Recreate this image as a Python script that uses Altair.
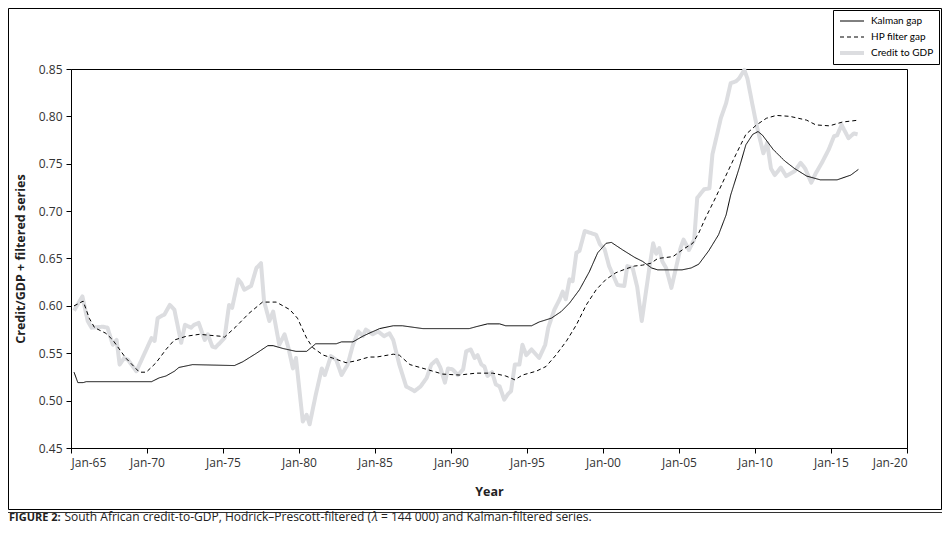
import altair as alt
import pandas as pd

# ---- data (decimal years) ----
credit_years = [1965.2, 1965.75, 1966.1, 1966.35, 1967.1, 1967.4, 1967.75, 1968.0, 1968.2, 1968.5,
                1968.75, 1969.3, 1970.3, 1970.5, 1970.7, 1971.15, 1971.5, 1971.8, 1972.25, 1972.5,
                1972.9, 1973.1, 1973.4, 1973.8, 1974.0, 1974.3, 1974.5, 1975.1, 1975.4, 1975.6,
                1976.0, 1976.2, 1976.4, 1976.85, 1977.2, 1977.5, 1977.7, 1978.05, 1978.3, 1978.7,
                1979.05, 1979.3, 1979.6, 1979.8, 1980.25, 1980.5, 1980.7, 1981.1, 1981.5, 1981.7,
                1982.1, 1982.45, 1982.8, 1983.2, 1983.55, 1983.9, 1984.2, 1984.4, 1984.85, 1985.2,
                1985.6, 1985.95, 1986.2, 1986.6, 1987.05, 1987.6, 1988.0, 1988.4, 1988.7, 1989.05,
                1989.3, 1989.6, 1989.8, 1990.1, 1990.45, 1990.8, 1991.0, 1991.3, 1991.55, 1991.75,
                1992.0, 1992.2, 1992.4, 1992.7, 1992.95, 1993.2, 1993.5, 1993.75, 1993.95, 1994.2,
                1994.5, 1994.7, 1994.95, 1995.3, 1995.8, 1996.2, 1996.4, 1996.8, 1997.15, 1997.35,
                1997.55, 1997.8, 1998.0, 1998.25, 1998.45, 1998.8, 1999.55, 1999.8, 2000.1, 2000.4,
                2000.95, 2001.4, 2001.6, 2001.95, 2002.25, 2002.55, 2002.8, 2003.05, 2003.3, 2003.5,
                2003.7, 2003.9, 2004.15, 2004.5, 2004.8, 2005.1, 2005.3, 2005.65, 2006.0, 2006.2,
                2006.65, 2007.0, 2007.2, 2007.55, 2007.75, 2008.1, 2008.4, 2008.75, 2008.95, 2009.3,
                2009.5, 2009.8, 2010.1, 2010.55, 2010.8, 2011.05, 2011.3, 2011.7, 2012.05, 2012.6,
                2013.0, 2013.3, 2013.7, 2014.0, 2014.4, 2014.85, 2015.2, 2015.4, 2015.7, 2016.15,
                2016.5, 2016.75]
credit_values = [0.595, 0.610, 0.584, 0.577, 0.578, 0.577, 0.559, 0.564, 0.538, 0.545,
                 0.543, 0.531, 0.566, 0.563, 0.587, 0.591, 0.601, 0.596, 0.561, 0.580,
                 0.577, 0.580, 0.582, 0.564, 0.570, 0.557, 0.556, 0.566, 0.601, 0.598,
                 0.628, 0.624, 0.617, 0.621, 0.640, 0.645, 0.605, 0.584, 0.594, 0.559,
                 0.570, 0.556, 0.534, 0.545, 0.478, 0.485, 0.475, 0.506, 0.534, 0.527,
                 0.547, 0.543, 0.527, 0.538, 0.559, 0.573, 0.568, 0.575, 0.570, 0.573,
                 0.568, 0.571, 0.564, 0.538, 0.515, 0.510, 0.515, 0.524, 0.538, 0.543,
                 0.535, 0.519, 0.534, 0.533, 0.527, 0.533, 0.552, 0.554, 0.545, 0.548,
                 0.538, 0.536, 0.526, 0.530, 0.517, 0.515, 0.501, 0.507, 0.510, 0.538,
                 0.538, 0.559, 0.548, 0.554, 0.545, 0.559, 0.577, 0.596, 0.607, 0.615,
                 0.607, 0.628, 0.626, 0.656, 0.658, 0.679, 0.675, 0.665, 0.660, 0.642,
                 0.622, 0.621, 0.642, 0.640, 0.620, 0.584, 0.612, 0.640, 0.666, 0.655,
                 0.661, 0.647, 0.640, 0.619, 0.640, 0.661, 0.670, 0.659, 0.670, 0.714,
                 0.723, 0.724, 0.760, 0.784, 0.798, 0.814, 0.835, 0.837, 0.840, 0.849,
                 0.840, 0.815, 0.791, 0.761, 0.772, 0.745, 0.738, 0.746, 0.737, 0.742,
                 0.751, 0.745, 0.730, 0.740, 0.751, 0.765, 0.779, 0.780, 0.791, 0.777,
                 0.782, 0.781]

kalman_years = [1965.2, 1965.45, 1965.8, 1966.0, 1970.3, 1970.8, 1971.25, 1971.8, 1972.1, 1973.0,
                1975.75, 1976.3, 1977.2, 1977.95, 1978.3, 1978.95, 1979.8, 1980.5, 1981.1, 1982.45,
                1982.8, 1983.55, 1984.2, 1984.6, 1985.3, 1986.2, 1986.8, 1988.15, 1991.2, 1991.65,
                1992.4, 1993.2, 1993.6, 1995.3, 1995.8, 1996.6, 1997.25, 1997.8, 1998.45, 1999.1,
                1999.65, 2000.2, 2000.55, 2001.3, 2002.1, 2002.6, 2003.2, 2003.6, 2005.2, 2005.8,
                2006.3, 2006.95, 2007.6, 2008.1, 2008.4, 2008.95, 2009.4, 2009.85, 2010.2, 2010.5,
                2011.2, 2011.95, 2012.6, 2013.4, 2014.3, 2015.4, 2016.3, 2016.8]
kalman_values = [0.530, 0.519, 0.519, 0.520, 0.520, 0.524, 0.526, 0.531, 0.535, 0.538,
                 0.537, 0.541, 0.550, 0.558, 0.558, 0.555, 0.552, 0.552, 0.560, 0.560,
                 0.562, 0.562, 0.568, 0.571, 0.576, 0.579, 0.579, 0.576, 0.576, 0.578,
                 0.581, 0.581, 0.579, 0.579, 0.583, 0.587, 0.594, 0.603, 0.617, 0.636,
                 0.656, 0.666, 0.667, 0.659, 0.651, 0.647, 0.640, 0.638, 0.638, 0.640,
                 0.644, 0.658, 0.675, 0.696, 0.717, 0.745, 0.770, 0.781, 0.784, 0.780,
                 0.765, 0.753, 0.745, 0.737, 0.733, 0.733, 0.738, 0.744]

hp_years = [1965.2, 1965.8, 1966.2, 1966.55, 1967.3, 1967.75, 1968.6, 1969.5, 1969.95, 1970.6,
            1971.25, 1971.8, 1972.6, 1973.45, 1974.1, 1974.8, 1975.1, 1975.85, 1976.7, 1977.6,
            1978.5, 1979.4, 1979.9, 1980.5, 1980.9, 1981.6, 1982.2, 1983.1, 1983.75, 1984.6,
            1985.1, 1986.2, 1986.6, 1987.3, 1988.4, 1989.45, 1990.55, 1991.65, 1992.75, 1993.6,
            1994.2, 1994.7, 1995.6, 1996.25, 1996.9, 1997.6, 1998.25, 1998.9, 1999.55, 2000.2,
            2000.85, 2001.5, 2002.05, 2002.6, 2003.15, 2003.6, 2004.6, 2005.3, 2005.9, 2006.3,
            2006.75, 2007.4, 2008.1, 2008.75, 2009.4, 2010.1, 2010.75, 2011.4, 2012.3, 2012.85,
            2013.4, 2014.0, 2014.9, 2015.75, 2016.8]
hp_values = [0.600, 0.605, 0.587, 0.577, 0.571, 0.564, 0.545, 0.530, 0.530, 0.540,
             0.554, 0.564, 0.568, 0.570, 0.569, 0.568, 0.567, 0.578, 0.592, 0.604,
             0.604, 0.596, 0.587, 0.566, 0.556, 0.548, 0.545, 0.540, 0.542, 0.546,
             0.546, 0.549, 0.548, 0.538, 0.533, 0.528, 0.527, 0.529, 0.529, 0.526,
             0.522, 0.527, 0.531, 0.536, 0.548, 0.563, 0.580, 0.601, 0.617, 0.628,
             0.635, 0.639, 0.642, 0.643, 0.645, 0.650, 0.652, 0.660, 0.666, 0.677,
             0.693, 0.714, 0.738, 0.760, 0.781, 0.791, 0.798, 0.801, 0.800, 0.798,
             0.796, 0.791, 0.790, 0.794, 0.796]

series_names = ["Kalman gap", "HP filter gap", "Credit to GDP"]
x_ticks = [1965, 1970, 1975, 1980, 1985, 1990, 1995, 2000, 2005, 2010, 2015, 2020]
y_ticks = [0.45, 0.50, 0.55, 0.60, 0.65, 0.70, 0.75, 0.80, 0.85]

x_title = "Year"
y_title = "Credit/GDP + filtered series"
caption_bold = "FIGURE 2:"
caption_a = "South African credit-to-GDP, Hodrick\u2013Prescott-filtered ("
caption_lambda = "\u03bb"
caption_c = " = 144 000) and Kalman-filtered series."

# ---- long table ----
frames = []
for name, xs, ys in [("Credit to GDP", credit_years, credit_values),
                     ("HP filter gap", hp_years, hp_values),
                     ("Kalman gap", kalman_years, kalman_values)]:
    frames.append(pd.DataFrame({"year": xs, "value": ys, "series": name}))
df = pd.concat(frames, ignore_index=True)

FONT = "Open Sans"
LEGEND_FONT = "Lato"
W, H = 836, 379

color_scale = alt.Scale(type="ordinal", domain=series_names, range=["#000000", "#000000", "#dcdde0"])
dash_scale = alt.Scale(type="ordinal", domain=series_names, range=[[1, 0], [4, 3], [1, 0]])
width_scale = alt.Scale(type="ordinal", domain=series_names, range=[1, 1, 4])

legend = alt.Legend(
    title=None, orient="none", legendX=762, legendY=-59,
    symbolType="stroke", symbolSize=576, clipHeight=12, rowPadding=4,
    labelFont=LEGEND_FONT, labelFontSize=10, labelColor="#000000", labelOffset=5,
    padding=5, strokeColor="#000000", fillColor="#ffffff", cornerRadius=0,
)


def line_layer(name):
    return alt.Chart(df).transform_filter(alt.datum.series == name).mark_line(
        interpolate="linear", strokeJoin="round"
    ).encode(
        x=alt.X("year:Q", scale=alt.Scale(domain=[1965, 2020], nice=False, zero=False),
                axis=alt.Axis(values=x_ticks, title=x_title,
                              labelExpr="'Jan-' + slice(toString(datum.value), 2)",
                              labelPadding=4, titlePadding=17)),
        y=alt.Y("value:Q", scale=alt.Scale(domain=[0.45, 0.85], nice=False, zero=False),
                axis=alt.Axis(values=y_ticks, format=".2f", title=y_title,
                              labelPadding=4, titlePadding=11)),
        color=alt.Color("series:N", scale=color_scale, legend=legend),
        strokeDash=alt.StrokeDash("series:N", scale=dash_scale, legend=legend),
        strokeWidth=alt.StrokeWidth("series:N", scale=width_scale, legend=legend),
    )


one = pd.DataFrame({"k": [0]})

frame = alt.Chart(one).mark_rect(fillOpacity=0, stroke="#000000", strokeWidth=1).encode(
    x=alt.value(-62.5), x2=alt.value(W + 34.5), y=alt.value(-60.5), y2=alt.value(440.5))

sep = alt.Chart(one).mark_rule(color="#333333", strokeWidth=1).encode(
    x=alt.value(-63), x2=alt.value(W + 35), y=alt.value(443.5))

CAP_Y = 452
CAP_SIZE = 12
cap1 = alt.Chart(one).mark_text(align="left", baseline="alphabetic", font=FONT, fontSize=11,
                                fontWeight="bold", color="#222222", text=caption_bold).encode(
    x=alt.value(-62), y=alt.value(CAP_Y))
cap2 = alt.Chart(one).mark_text(align="right", baseline="alphabetic", font=FONT, fontSize=CAP_SIZE,
                                color="#222222", text=caption_a).encode(
    x=alt.value(300), y=alt.value(CAP_Y))
cap3 = alt.Chart(one).mark_text(align="left", baseline="alphabetic", font=FONT, fontSize=CAP_SIZE,
                                fontStyle="italic", color="#222222", text=caption_lambda).encode(
    x=alt.value(301), y=alt.value(CAP_Y))
cap4 = alt.Chart(one).mark_text(align="left", baseline="alphabetic", font=FONT, fontSize=CAP_SIZE,
                                color="#222222", text=caption_c).encode(
    x=alt.value(310), y=alt.value(CAP_Y))

chart = alt.layer(
    frame, sep,
    line_layer("Credit to GDP"), line_layer("HP filter gap"), line_layer("Kalman gap"),
    cap1, cap2, cap3, cap4,
).properties(
    width=W, height=H,
    autosize=alt.AutoSizeParams(type="none"),
    padding={"left": 63, "top": 61, "right": 35, "bottom": 78},
    background="#ffffff",
).configure_view(
    stroke="#000000", strokeWidth=1
).configure_axis(
    grid=False, domainColor="#000000", tickColor="#000000", tickSize=5,
    labelFont=FONT, labelFontSize=12, labelColor="#333333",
    titleFont=FONT, titleFontSize=12.5, titleFontWeight="bold", titleColor="#222222",
)

chart.save("out.html", embed_options={"renderer": "svg", "actions": False})
